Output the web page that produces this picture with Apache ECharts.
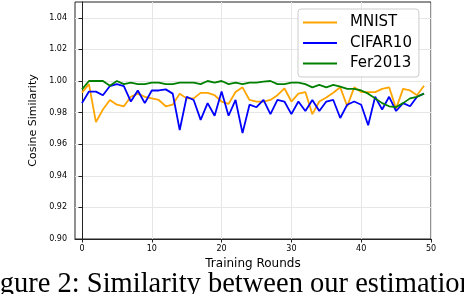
<!DOCTYPE html>
<html>
<head>
<meta charset="utf-8">
<script src="https://cdn.jsdelivr.net/npm/echarts@6/dist/echarts.min.js"></script>
<style>html,body{margin:0;padding:0;background:#fff;}#c{width:464px;height:294px;}</style>
</head>
<body>
<div id="c"></div>
<script>
const rounds = Array.from({length: 50}, (_, i) => i);
const mnist = [0.9926,0.998,0.974,0.982,0.988,0.985,0.984,0.990,0.992,0.990,
  0.989,0.988,0.984,0.985,0.992,0.989,0.989,0.9925,0.9925,0.991,
  0.987,0.9855,0.993,0.996,0.988,0.987,0.987,0.988,0.991,0.9954,
  0.987,0.992,0.993,0.979,0.987,0.9895,0.9926,0.996,0.984,0.996,
  0.993,0.993,0.993,0.995,0.996,0.9825,0.995,0.994,0.991,0.997];
const cifar10 = [0.986,0.9933,0.9933,0.991,0.9968,0.998,0.9968,0.987,0.994,0.986,
  0.994,0.994,0.9947,0.992,0.969,0.990,0.988,0.9754,0.986,0.978,
  0.9933,0.978,0.988,0.967,0.985,0.9834,0.988,0.979,0.988,0.987,
  0.979,0.987,0.981,0.988,0.981,0.987,0.988,0.9766,0.985,0.987,
  0.985,0.972,0.990,0.982,0.990,0.981,0.986,0.984,0.990,0.992];
const fer2013 = [0.9947,1.0,1.0,1.0,0.997,1.0,0.998,0.999,0.998,0.998,
  0.999,0.999,0.998,0.998,0.999,0.999,0.999,0.998,1.0,0.999,
  1.0,0.998,0.999,0.998,0.999,0.999,0.9996,1.0,0.998,0.998,
  0.999,0.999,0.998,0.996,0.9975,0.996,0.9975,0.9965,0.995,0.995,
  0.994,0.992,0.989,0.986,0.984,0.9835,0.986,0.989,0.990,0.992];
const xTicks = [0, 10, 20, 30, 40, 50];
const yTicks = [0.90, 0.92, 0.94, 0.96, 0.98, 1.00, 1.02, 1.04];
const seriesNames = ['MNIST', 'CIFAR10', 'Fer2013'];
const seriesColors = ['#FFA500', '#0000FF', '#008000'];
const seriesData = [mnist, cifar10, fer2013];
const caption = 'Figure 2: Similarity between our estimation';

const chart = echarts.init(document.getElementById('c'), null, {renderer: 'canvas'});
const font = 'DejaVu Sans';
chart.setOption({
  animation: false,
  backgroundColor: '#fff',
  grid: {left: 75, right: 33, top: 2, bottom: 55, show: true, borderColor: '#222', borderWidth: 1, backgroundColor: 'transparent'},
  legend: {
    orient: 'vertical', left: 298, top: 9,
    data: seriesNames.map(n => ({name: n, icon: 'rect'})),
    itemWidth: 34, itemHeight: 2, itemGap: 5.5,
    padding: [6, 7, 6, 5],
    backgroundColor: 'rgba(255,255,255,0.85)',
    borderColor: '#cccccc', borderWidth: 1, borderRadius: 3,
    textStyle: {fontFamily: font, fontSize: 15, color: '#000', padding: [0, 0, 0, 8]}
  },
  xAxis: {
    type: 'value', min: -1, max: 50,
    name: 'Training Rounds', nameLocation: 'middle', nameGap: 18,
    nameTextStyle: {fontFamily: font, fontSize: 12, color: '#000'},
    axisLine: {show: true, lineStyle: {color: '#222', width: 1}},
    axisTick: {show: true, length: 3.5, lineStyle: {color: '#222'}, customValues: xTicks},
    axisLabel: {fontFamily: font, fontSize: 8, color: '#000', margin: 6, customValues: xTicks},
    splitLine: {show: true, lineStyle: {color: '#e6e6e6', width: 1}},
    interval: 1
  },
  yAxis: {
    type: 'value', min: 0.90, max: 1.05,
    name: 'Cosine Similarity', nameLocation: 'middle', nameGap: 31,
    nameTextStyle: {fontFamily: font, fontSize: 11, color: '#000'},
    axisLine: {show: true, lineStyle: {color: '#222', width: 1}},
    axisTick: {show: true, length: 3.5, lineStyle: {color: '#222'}, customValues: yTicks},
    axisLabel: {fontFamily: font, fontSize: 8, color: '#000', margin: 8, customValues: yTicks,
      formatter: v => v.toFixed(2)},
    splitLine: {show: true, lineStyle: {color: '#e6e6e6', width: 1}},
    interval: 0.01
  },
  series: seriesNames.map((n, k) => ({
    name: n, type: 'line', symbol: 'none', showSymbol: false,
    data: rounds.map((r, i) => [r, seriesData[k][i]]),
    lineStyle: {color: seriesColors[k], width: 1.8},
    itemStyle: {color: seriesColors[k]}
  })),
  graphic: [{
    type: 'text', left: -24, top: 270,
    style: {text: caption, font: '28.5px "Liberation Serif"', fill: '#000'}
  }]
});
</script>
</body>
</html>
